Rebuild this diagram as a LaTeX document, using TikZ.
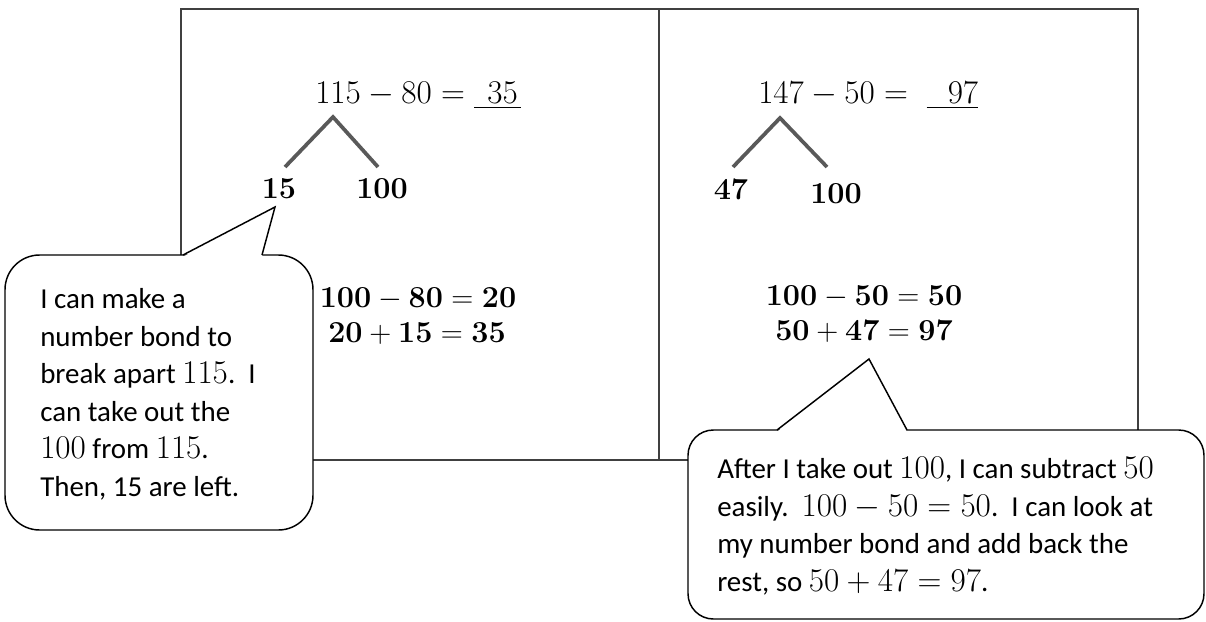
\documentclass[tikz,border=0pt]{standalone}
\usepackage{amsmath}
\usepackage[no-math]{fontspec}
\setmainfont{Carlito}
\newcommand\bnum[1]{{\fontsize{24}{28.1}\selectfont$#1$}}
\newcommand\beq[1]{\scalebox{0.92}{$#1$}}
\begin{document}
\begin{tikzpicture}[x=0.75pt,y=-0.75pt,
  frame/.style={draw=black!75, line width=0.8pt},
  bondline/.style={draw=black!65, line width=2.8pt},
  bubble/.style={draw=black, line width=1.1pt, fill=white},
  eqn/.style={font=\fontsize{24.3}{30}\selectfont, inner sep=0pt},
  beqn/.style={font=\fontsize{24.3}{30}\selectfont, inner sep=0pt},
  saytext/.style={font=\fontsize{21.7}{28.1}\selectfont, align=left, inner sep=0pt}]
\useasboundingbox (0,0) rectangle (1206,621);
% frame with two panels
\draw[frame] (181,9) rectangle (1138,460);
\draw[frame] (659,9) -- (659,460);

% left panel
\node[eqn, anchor=base west] (eqL) at (315,103) {$115-80={}$\underline{\hspace{10pt}$35$\hspace{2pt}}};
\coordinate (apexL) at (333,117);
\coordinate (endLa) at (285,167);
\coordinate (endLb) at (378,167);
\draw[bondline] (endLa) -- (apexL) -- (endLb);
\node[beqn, anchor=base] (n15) at (279,198) {\beq{\mathbf{15}}};
\node[beqn, anchor=base] (n100L) at (382,198) {\beq{\mathbf{100}}};
\node[beqn, anchor=base] (sL1) at (418,307) {\beq{\mathbf{100}-\mathbf{80}=\mathbf{20}}};
\node[beqn, anchor=base] (sL2) at (417,342) {\beq{\mathbf{20}+\mathbf{15}=\mathbf{35}}};

% right panel
\node[eqn, anchor=base west] (eqR) at (758,103) {$147-50={}$\hspace{7pt}\underline{\hspace{16pt}$97$}};
\coordinate (apexR) at (780,118);
\coordinate (endRa) at (733,167);
\coordinate (endRb) at (827,167);
\draw[bondline] (endRa) -- (apexR) -- (endRb);
\node[beqn, anchor=base] (n47) at (731,199) {\beq{\mathbf{47}}};
\node[beqn, anchor=base] (n100R) at (836,203) {\beq{\mathbf{100}}};
\node[beqn, anchor=base] (sR1) at (864,305) {\beq{\mathbf{100}-\mathbf{50}=\mathbf{50}}};
\node[beqn, anchor=base] (sR2) at (864,340) {\beq{\mathbf{50}+\mathbf{47}=\mathbf{97}}};

% bubble 1
\draw[bubble, rounded corners=26pt] (5,255) rectangle (313,530);
\coordinate (tip1) at (275,207);
\coordinate (b1a) at (183,255);
\coordinate (b1b) at (262,255);
\fill[white] (183,256.8) -- (tip1) -- (262,256.8) -- cycle;
\draw[draw=black, line width=1.1pt, line join=miter] (b1a) -- (tip1) -- (b1b);
\node[saytext, anchor=base west] (t1) at (40,496) {I can make a\\ number bond to\\ break apart \bnum{115}.\ \ I\\ can take out the\\ \bnum{100} from \bnum{115}.\\ Then, 15 are left.};

% bubble 2
\draw[bubble, rounded corners=19pt] (688,430) rectangle (1204,619);
\coordinate (tip2) at (869,359);
\coordinate (b2a) at (777,430);
\coordinate (b2b) at (907,430);
\fill[white] (777,431.8) -- (tip2) -- (907,431.8) -- cycle;
\draw[draw=black, line width=1.1pt, line join=miter] (b2a) -- (tip2) -- (b2b);
\node[saytext, anchor=base west] (t2) at (717,591) {After I take out \bnum{100}, I can subtract \bnum{50}\\ easily.\ \ \bnum{100-50=50}.\ \ I can look at\\ my number bond and add back the\\ rest, so \bnum{50+47=97}.};
\end{tikzpicture}
\end{document}
